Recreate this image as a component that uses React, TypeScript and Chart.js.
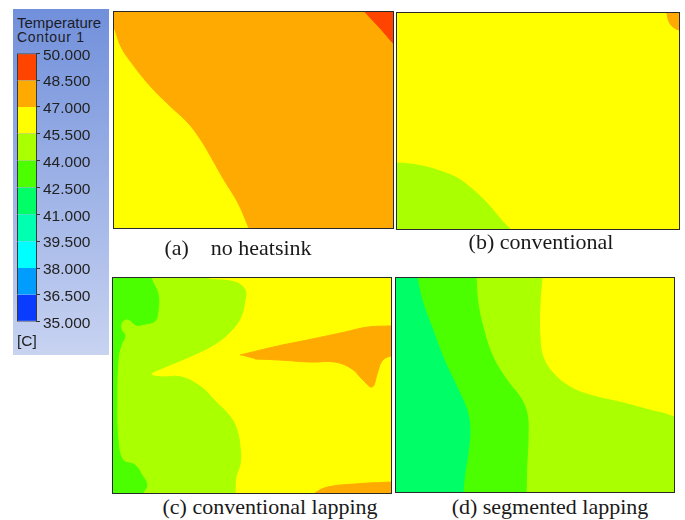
import { useEffect, useRef } from "react";
import { Chart, registerables } from "chart.js";
Chart.register(...registerables);

type P = [number, number];

// Legend (temperature bands, °C)
const legendTicks = [35, 36.5, 38, 39.5, 41, 42.5, 44, 45.5, 47, 48.5, 50];
const bandColors = ["#0a3cff", "#009dff", "#00ffff", "#00ffb0", "#00ff66", "#4cff00", "#aaff00", "#ffff00", "#ffaa00", "#ff4400"];
const legendTitle = "Temperature";
const legendSubtitle = "Contour 1";
const legendUnit = "[C]";

// Captions
const captionA = "(a)    no heatsink";
const captionB = "(b) conventional";
const captionC = "(c) conventional lapping";
const captionD = "(d) segmented lapping";

// Contour boundaries, in % of panel width (x) and height (y, from bottom)
const fullRect: P[] = [[-10, -10], [110, -10], [110, 110], [-10, 110]];

// (a) no heatsink: base 47–48.5
const aYellow: P[] = [[-1.5, 97], [0, 91.7], [2.2, 83.8], [5.7, 76.9], [12.9, 65.3], [20.1, 56.0], [26.2, 48.6], [30.8, 40.7], [34.4, 32.9], [39.1, 22.2], [44.1, 11.6], [48.0, 0], [50, -6], [-10, -10], [-10, 110]];
const aRed: P[] = [[88, 104], [90, 100], [95.3, 92.6], [100, 85.6], [103, 82], [110, 80], [110, 110], [88, 110]];

// (b) conventional: base 45.5–47
const bLime: P[] = [[-4, 30.8], [0, 30.6], [7.1, 29.6], [14.2, 27.3], [21.3, 23.6], [27.0, 18.1], [31.9, 12.0], [35.5, 6.5], [38.3, 2.3], [40.1, 0], [41.5, -3], [-10, -10], [-10, 31]];
const bOrange: P[] = [[95.3, 103], [95.7, 100], [96.5, 95.8], [97.9, 93.5], [100, 92.1], [103, 91.5], [110, 91], [110, 110], [95, 110]];

// (c) conventional lapping: base 45.5–47
const cLime: P[] = [[31, 103], [33.1, 100], [43.9, 98.1], [47.5, 94.4], [47.5, 89.8], [46.0, 81.9], [42.4, 75.3], [36.7, 69.3], [28.1, 63.7], [18.7, 58.6], [13.7, 55.3], [17.3, 54.0], [24.5, 54.0], [31.7, 49.3], [36.7, 42.8], [41.4, 36.7], [44.2, 30.7], [45.7, 21.4], [45.7, 13.5], [44.2, 7.4], [43.9, 0], [43.8, -3], [-10, -10], [-10, 110], [31, 110]];
const cGreen: P[] = [[13.5, 103], [13.7, 100], [16.2, 92.6], [16.2, 84.7], [15.1, 80.0], [11.5, 78.6], [8.3, 78.1], [5.4, 80.9], [3.2, 79.5], [2.9, 76.3], [4.3, 73.0], [2.9, 68.8], [1.8, 61.9], [1.4, 43.3], [1.8, 24.7], [3.6, 15.3], [7.9, 13.0], [10.4, 8.4], [12.2, 3.7], [10.8, 0], [10, -3], [-10, -10], [-10, 110], [13.5, 110]];
const cOrangeWedge: P[] = [[45.7, 64.2], [59.4, 68.4], [71.6, 71.6], [83.5, 74.9], [91.7, 77.2], [100, 77.7], [104, 77.8], [104, 63], [100, 63.7], [96.8, 61.4], [95.0, 55.3], [93.2, 49.3], [89.6, 53.0], [86.0, 57.7], [79.9, 60.9], [71.6, 60.9], [59.4, 61.9], [51.1, 62.3]];
const cOrangeBottom: P[] = [[71, -3], [72.7, 0], [77.3, 2.8], [87.1, 4.2], [100, 5.1], [104, 5.3], [110, 5.3], [110, -10], [70, -10]];

// (d) segmented lapping: base 45.5–47
const dLime: P[] = [[52.6, 104], [52.5, 100], [51.8, 88.3], [51.8, 72.4], [52.9, 63.1], [56.5, 55.6], [62.6, 49.1], [69.8, 45.3], [81.7, 41.6], [93.9, 37.4], [96.0, 36.9], [100, 35.0], [104, 33.5], [110, 33], [110, -10], [-10, -10], [-10, 110], [52.6, 110]];
const dGreen: P[] = [[28.6, 104], [28.8, 100], [29.5, 88.3], [31.3, 77.1], [34.9, 63.1], [39.9, 52.3], [44.6, 44.4], [47.1, 36.9], [47.5, 25.7], [47.1, 13.6], [46.8, 0], [46.7, -4], [-10, -10], [-10, 110], [28.6, 110]];
const dSpring: P[] = [[7.0, 104], [7.6, 100], [9.7, 88.3], [13.3, 75.7], [16.9, 63.1], [21.9, 49.1], [25.5, 38.3], [26.6, 29.0], [25.9, 18.2], [24.8, 8.9], [24.1, 0], [23.9, -4], [-10, -10], [-10, 110], [7.0, 110]];

// Regions per panel: [lower band temperature, polygon], drawn bottom to top
type Region = { band: number; pts: P[]; base?: boolean };
const panelA: Region[] = [{ band: 47, pts: fullRect, base: true }, { band: 45.5, pts: aYellow }, { band: 48.5, pts: aRed }];
const panelB: Region[] = [{ band: 45.5, pts: fullRect, base: true }, { band: 44, pts: bLime }, { band: 47, pts: bOrange }];
const panelC: Region[] = [{ band: 45.5, pts: fullRect, base: true }, { band: 44, pts: cLime }, { band: 42.5, pts: cGreen }, { band: 47, pts: cOrangeWedge }, { band: 47, pts: cOrangeBottom }];
const panelD: Region[] = [{ band: 45.5, pts: fullRect, base: true }, { band: 44, pts: dLime }, { band: 42.5, pts: dGreen }, { band: 41, pts: dSpring }];

function bandColor(t: number) {
  const i = legendTicks.findIndex((v) => Math.abs(v - t) < 1e-6);
  return bandColors[Math.max(0, Math.min(bandColors.length - 1, i))];
}

function Panel({ regions, left, top, width, height }: { regions: Region[]; left: number; top: number; width: number; height: number }) {
  const ref = useRef<HTMLCanvasElement>(null);
  useEffect(() => {
    const chart = new Chart(ref.current!, {
      type: "scatter",
      data: {
        datasets: regions.map((r, i) => {
          const c = bandColor(r.band);
          return {
            data: r.pts.map(([x, y]) => ({ x, y })),
            showLine: true,
            fill: "shape",
            backgroundColor: c,
            borderColor: c,
            borderWidth: 1,
            pointRadius: 0,
            pointHoverRadius: 0,
            tension: r.base ? 0 : 0.4,
            order: -i,
          } as any;
        }),
      },
      options: {
        animation: false,
        responsive: false,
        events: [],
        layout: { padding: 0 },
        elements: { line: { capBezierPoints: false } },
        plugins: { legend: { display: false }, tooltip: { enabled: false } },
        scales: {
          x: { type: "linear", min: 0, max: 100, display: false },
          y: { type: "linear", min: 0, max: 100, display: false },
        },
      },
    });
    return () => chart.destroy();
  }, []);
  return (
    <div style={{ position: "absolute", left, top, width, height, border: "1px solid #2a2a2a" }}>
      <canvas ref={ref} width={width} height={height} style={{ display: "block", width, height }} />
    </div>
  );
}

function LegendBar() {
  const ref = useRef<HTMLCanvasElement>(null);
  const W = 90, H = 293, barW = 19;
  useEffect(() => {
    const n = bandColors.length;
    const chart = new Chart(ref.current!, {
      type: "bar",
      data: {
        labels: [""],
        datasets: bandColors.map((c, i) => ({
          data: [[legendTicks[i], legendTicks[i + 1]]],
          backgroundColor: c,
          borderColor: "#3a3a3a",
          borderWidth: { left: 1, top: i === n - 1 ? 1 : 0, bottom: i === 0 ? 1 : 0, right: 0 },
          borderSkipped: false,
          grouped: false,
          barPercentage: 1,
          categoryPercentage: 1,
          inflateAmount: 0,
        })) as any,
      },
      options: {
        animation: false,
        responsive: false,
        events: [],
        layout: { padding: { top: 12, bottom: 12, left: 0, right: 0 } },
        plugins: { legend: { display: false }, tooltip: { enabled: false } },
        scales: {
          x: { display: false },
          y: {
            position: "right",
            min: 35,
            max: 50,
            afterBuildTicks: (s: any) => {
              s.ticks = legendTicks.map((v) => ({ value: v }));
            },
            afterFit: (s: any) => {
              s.width = W - barW;
            },
            ticks: {
              callback: (v: any) => Number(v).toFixed(3),
              font: { family: "'Liberation Sans', Arial, sans-serif", size: 15.5 },
              color: "#222",
              padding: 3,
              labelOffset: 2,
            },
            grid: { drawOnChartArea: false, tickLength: 4, color: "#333" },
            border: { display: true, color: "#3a3a3a" },
          } as any,
        },
      },
    });
    return () => chart.destroy();
  }, []);
  return <canvas ref={ref} width={W} height={H} style={{ position: "absolute", left: 17, top: 41, width: W, height: H }} />;
}

const sans = "'Liberation Sans', Arial, sans-serif";
const serif = "'Liberation Serif', 'Times New Roman', serif";

function Caption({ text, cx, top }: { text: string; cx: number; top: number }) {
  return (
    <div style={{ position: "absolute", left: cx - 160, top, width: 320, textAlign: "center", font: `22px ${serif}`, lineHeight: "22px", color: "#1a1a1a", whiteSpace: "pre" }}>
      {text}
    </div>
  );
}

export default function App() {
  return (
    <div style={{ position: "fixed", left: 0, top: 0, width: 685, height: 520, background: "#fff", overflow: "hidden" }}>
      <div style={{ position: "absolute", left: 13, top: 9, width: 96, height: 346, background: "linear-gradient(#7190db, #c8d3f1)" }} />
      <div style={{ position: "absolute", left: 17, top: 15, font: `15px ${sans}`, lineHeight: "15px", color: "#1c1c28", whiteSpace: "nowrap" }}>{legendTitle}</div>
      <div style={{ position: "absolute", left: 17, top: 30, font: `14px ${sans}`, lineHeight: "14px", letterSpacing: "0.7px", color: "#1c1c28", whiteSpace: "nowrap" }}>{legendSubtitle}</div>
      <LegendBar />
      <div style={{ position: "absolute", left: 17, top: 333, font: `15.5px ${sans}`, lineHeight: "15.5px", color: "#222", whiteSpace: "nowrap" }}>{legendUnit}</div>

      <Panel regions={panelA} left={113} top={11} width={279} height={216} />
      <Panel regions={panelB} left={396} top={12} width={282} height={216} />
      <Panel regions={panelC} left={112} top={277} width={278} height={215} />
      <Panel regions={panelD} left={395} top={277} width={278} height={214} />

      <Caption text={captionA} cx={238} top={237} />
      <Caption text={captionB} cx={541} top={231} />
      <Caption text={captionC} cx={270} top={496} />
      <Caption text={captionD} cx={550} top={496} />
    </div>
  );
}
